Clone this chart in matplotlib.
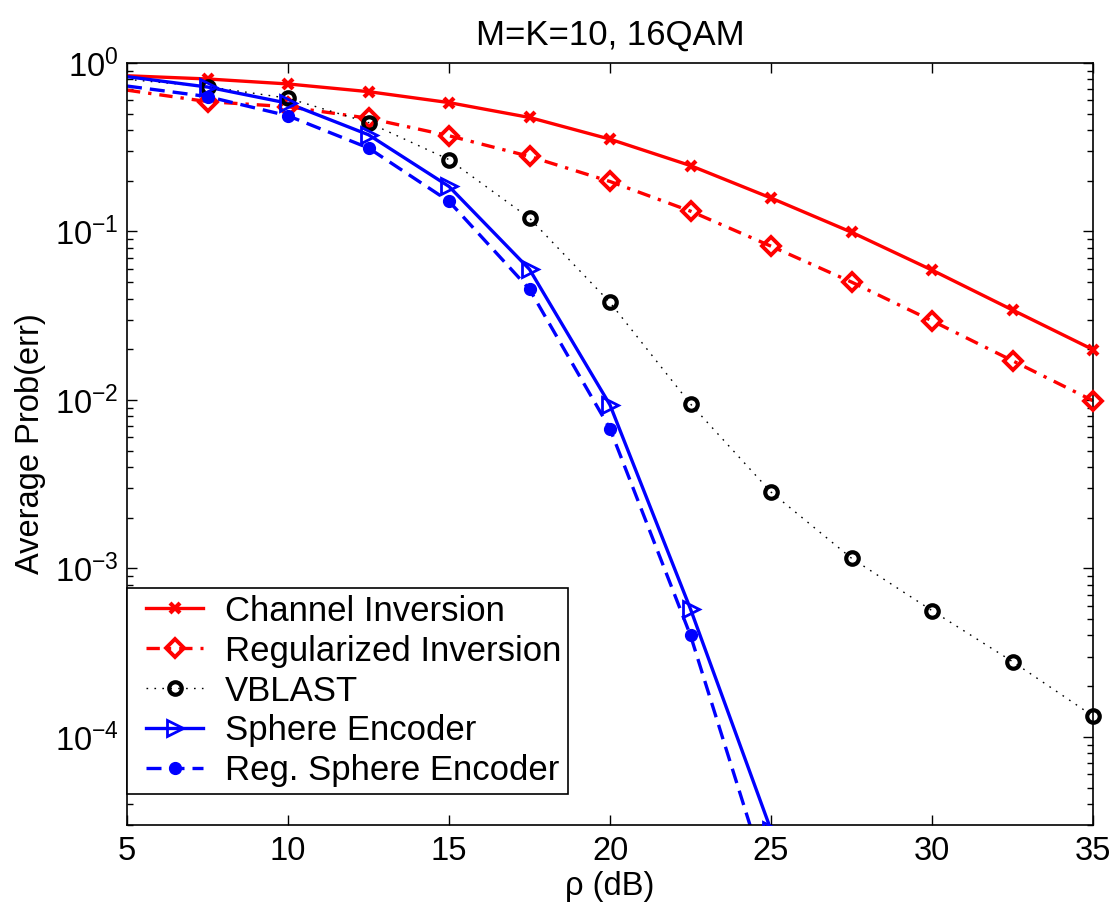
import matplotlib
matplotlib.use("Agg")
import matplotlib.pyplot as plt
from matplotlib.lines import Line2D
from matplotlib.legend_handler import HandlerLine2D
from matplotlib.ticker import LogLocator

plt.rcParams['font.family'] = ['Liberation Sans', 'DejaVu Sans']
plt.rcParams['mathtext.fontset'] = 'custom'
plt.rcParams['mathtext.rm'] = 'Liberation Sans'
plt.rcParams['mathtext.it'] = 'Liberation Sans:italic'
plt.rcParams['mathtext.bf'] = 'Liberation Sans:bold'

# ---- data ----
snr_db = [5, 7.5, 10, 12.5, 15, 17.5, 20, 22.5, 25, 27.5, 30, 32.5, 35]
chan_inv = [0.84, 0.804, 0.751, 0.676, 0.582, 0.475, 0.353, 0.246, 0.158, 0.099, 0.059, 0.0342, 0.0199]
reg_inv = [0.69, 0.59, 0.55, 0.47, 0.37, 0.279, 0.198, 0.132, 0.0818, 0.0501, 0.0295, 0.0171, 0.0099]
vblast = [0.80, 0.724, 0.618, 0.443, 0.267, 0.120, 0.0379, 0.00947, 0.00284, 0.00115, 5.62e-4, 2.80e-4, 1.33e-4]
snr_sphere = [5, 7.5, 10, 12.5, 15, 17.5, 20, 22.5, 25]
sphere = [0.83, 0.72, 0.577, 0.375, 0.185, 0.0596, 0.00934, 5.74e-4, 2.8e-5]
reg_sphere = [0.73, 0.632, 0.486, 0.313, 0.151, 0.0454, 0.00674, 4.0e-4, 1.2e-5]

labels = ['Channel Inversion', 'Regularized Inversion', 'VBLAST',
          'Sphere Encoder', 'Reg. Sphere Encoder']
title = 'M=K=10, 16QAM'
xlabel = 'ρ (dB)'
ylabel = 'Average Prob(err)'

FS_TICK = 23.5
FS_TITLE = 25
FS_LEG = 25
fig = plt.figure(figsize=(11.14, 9.07), dpi=100)
ax = fig.add_axes([127/1114, 1-825/907, (1093-127)/1114, (825-63)/907])

styles = [
    dict(color='red', ls='-', lw=2.4, marker='x', ms=7.5, mew=3.0, mfc='red'),
    dict(color='red', ls=(0, (4, 2.4, 1, 2.4)), lw=2.4, marker='D', ms=9.5, mew=2.8, mfc='none'),
    dict(color='black', ls=(0, (1.2, 4.5)), lw=1.0, marker='o', ms=9, mew=3.0, mfc='none'),
    dict(color='blue', ls='-', lw=2.4, marker='>', ms=11.5, mew=2.0, mfc='none'),
    dict(color='blue', ls=(0, (4.5, 2.4)), lw=2.4, marker='o', ms=8.5, mew=1, mfc='blue'),
]
series = [(snr_db, chan_inv), (snr_db, reg_inv), (snr_db, vblast),
          (snr_sphere, sphere), (snr_sphere, reg_sphere)]

handles = []
for (xs, ys), st, lab in zip(series, styles, labels):
    ax.plot(xs, ys, color=st['color'], ls=st['ls'], lw=st['lw'], zorder=2)
    inside = st['color'] != 'blue'
    ax.plot(xs[1:], ys[1:], ls='none', marker=st['marker'], ms=st['ms'],
            mew=st['mew'], mec=st['color'], mfc=st['mfc'], clip_on=not inside, zorder=3)
    handles.append(Line2D([], [], color=st['color'], ls=st['ls'], lw=st['lw'],
                          marker=st['marker'], ms=st['ms'], mew=st['mew'],
                          mec=st['color'], mfc=st['mfc']))

ax.set_yscale('log')
ax.set_xlim(5, 35)
ax.set_ylim(3e-5, 1)
ax.set_xticks([5, 10, 15, 20, 25, 30, 35])
ax.yaxis.set_major_locator(LogLocator(base=10, numticks=10))
ax.yaxis.set_minor_locator(LogLocator(base=10, subs=range(2, 10), numticks=20))
ax.tick_params(axis='both', which='both', direction='in', top=True, right=True,
               labelsize=FS_TICK, colors='black')
ax.tick_params(axis='both', which='major', length=7, width=1)
ax.tick_params(axis='both', which='minor', length=4.5, width=1)
ax.tick_params(axis='x', pad=8)
ax.tick_params(axis='y', pad=6)
for s in ax.spines.values():
    s.set_linewidth(1.2)
    s.set_color('black')

ax.set_title(title, fontsize=FS_TITLE, pad=13)
ax.set_xlabel(xlabel, fontsize=FS_TICK, labelpad=3)
ax.set_ylabel(ylabel, fontsize=FS_TICK, labelpad=6)

leg = ax.legend(handles, labels, loc='lower left', bbox_to_anchor=(0, 31/762),
                borderaxespad=0, fontsize=FS_LEG, frameon=True, fancybox=False,
                framealpha=1, edgecolor='black', handlelength=2.0,
                handletextpad=0.63, labelspacing=0.2, borderpad=0.19, numpoints=1,
                handler_map={Line2D: HandlerLine2D(xpad=0.36)})
leg.get_frame().set_linewidth(1.2)
leg.set_zorder(10)

fig.savefig('out.png', dpi=100)
